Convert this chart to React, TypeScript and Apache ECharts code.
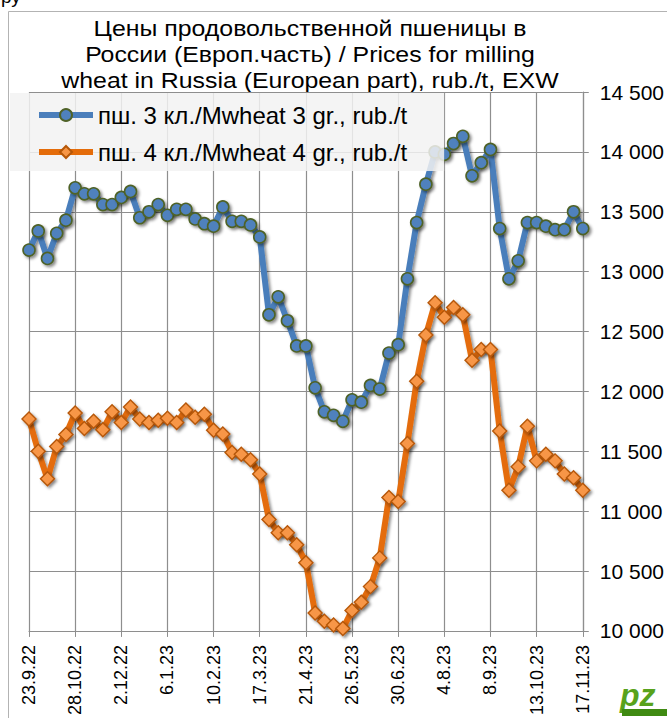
import React, { useEffect, useRef } from "react";
import * as echarts from "echarts";

const categories = [
  "23.9.22", "30.9.22", "7.10.22", "14.10.22", "21.10.22", "28.10.22", "4.11.22", "11.11.22", "18.11.22", "25.11.22",
  "2.12.22", "9.12.22", "16.12.22", "23.12.22", "30.12.22", "6.1.23", "13.1.23", "20.1.23", "27.1.23", "3.2.23",
  "10.2.23", "17.2.23", "24.2.23", "3.3.23", "10.3.23", "17.3.23", "24.3.23", "31.3.23", "7.4.23", "14.4.23",
  "21.4.23", "28.4.23", "5.5.23", "12.5.23", "19.5.23", "26.5.23", "2.6.23", "9.6.23", "16.6.23", "23.6.23",
  "30.6.23", "7.7.23", "14.7.23", "21.7.23", "28.7.23", "4.8.23", "11.8.23", "18.8.23", "25.8.23", "1.9.23",
  "8.9.23", "15.9.23", "22.9.23", "29.9.23", "6.10.23", "13.10.23", "20.10.23", "27.10.23", "3.11.23", "10.11.23",
  "17.11.23",
];

const wheat3 = [
  13180, 13340, 13110, 13320, 13430, 13700, 13650, 13650, 13560, 13560,
  13620, 13670, 13450, 13500, 13560, 13470, 13520, 13520, 13440, 13400,
  13380, 13540, 13420, 13420, 13390, 13290, 12640, 12790, 12590, 12380,
  12380, 12030, 11830, 11800, 11750, 11930, 11910, 12050, 12020, 12320,
  12390, 12940, 13410, 13730, 14000, 13980, 14070, 14130, 13800, 13910,
  14020, 13360, 12940, 13090, 13410, 13410, 13380, 13350, 13350, 13500,
  13360,
];

const wheat4 = [
  11770, 11500, 11270, 11540, 11640, 11820, 11690, 11750, 11680, 11830,
  11740, 11870, 11770, 11740, 11760, 11775, 11740, 11845, 11785, 11810,
  11675, 11645, 11490, 11475, 11430, 11310, 10930, 10820, 10820, 10720,
  10570, 10150, 10080, 10050, 10020, 10170, 10240, 10370, 10610, 11115,
  11080, 11565, 12085, 12470, 12740, 12620, 12700, 12640, 12260, 12350,
  12350, 11670, 11175, 11370, 11710, 11420, 11475, 11420, 11310, 11280,
  11175,
];

const seriesNames = ["пш. 3 кл./Mwheat 3 gr., rub./t", "пш. 4 кл./Mwheat 4 gr., rub./t"];
const titleLines = [
  "Цены продовольственной пшеницы в",
  "России (Европ.часть) / Prices for milling",
  "wheat in Russia (European part), rub./t, EXW",
];
const yMin = 10000;
const yMax = 14500;
const yStep = 500;

const FONT = "Liberation Sans, Arial, sans-serif";
const GRID = "#8e8e8e";

function fmt(v: number) {
  return String(v).replace(/\B(?=(\d{3})+(?!\d))/g, " ");
}

export default function App() {
  const ref = useRef<HTMLDivElement>(null);
  useEffect(() => {
    if (!ref.current) return;
    const chart = echarts.init(ref.current, undefined, { renderer: "svg" });
    const shadow = {
      shadowBlur: 3,
      shadowColor: "rgba(0,0,0,0.45)",
      shadowOffsetX: 2,
      shadowOffsetY: 2,
    };
    chart.setOption({
      animation: false,
      backgroundColor: "#ffffff",
      textStyle: { fontFamily: FONT },
      grid: { left: 29, right: 76, top: 92, bottom: 86, containLabel: false },
      legend: {
        orient: "vertical",
        left: 10,
        top: 93,
        padding: [7, 37, 4, 26],
        itemGap: 7,
        itemWidth: 54,
        itemHeight: 15,
        backgroundColor: "rgba(242,242,242,0.85)",
        lineStyle: { width: 6 },
        textStyle: { fontSize: 24, color: "#000", fontFamily: FONT, lineHeight: 30 },
        data: seriesNames,
      },
      xAxis: {
        type: "category",
        data: categories,
        boundaryGap: false,
        axisLine: { show: true, lineStyle: { color: GRID, width: 1.2 } },
        axisTick: { show: true, interval: 4, length: 6, lineStyle: { color: GRID } },
        axisLabel: {
          interval: 4,
          rotate: 90,
          fontSize: 18,
          color: "#000",
          fontFamily: FONT,
          margin: 14,
        },
        splitLine: { show: true, interval: 4, lineStyle: { color: GRID, width: 1.2 } },
      },
      yAxis: {
        type: "value",
        position: "right",
        min: yMin,
        max: yMax,
        interval: yStep,
        axisLine: { show: true, lineStyle: { color: GRID, width: 1.2 } },
        axisTick: { show: true, length: 6, lineStyle: { color: GRID } },
        axisLabel: {
          fontSize: 21,
          color: "#000",
          fontFamily: FONT,
          margin: 17,
          formatter: (v: number) => fmt(v),
        },
        splitLine: { show: true, lineStyle: { color: GRID, width: 1.2 } },
      },
      series: [
        {
          name: seriesNames[0],
          type: "line",
          data: wheat3,
          symbol: "circle",
          symbolSize: 12,
          showAllSymbol: true,
          z: 3,
          lineStyle: { color: "#4a7ebb", width: 6, ...shadow },
          itemStyle: { color: "#4f81bd", borderColor: "#4f6228", borderWidth: 1.6, ...shadow },
        },
        {
          name: seriesNames[1],
          type: "line",
          data: wheat4,
          symbol: "diamond",
          symbolSize: 14,
          showAllSymbol: true,
          z: 2,
          lineStyle: { color: "#e46c0a", width: 6, ...shadow },
          itemStyle: { color: "#f79646", borderColor: "#b65708", borderWidth: 1.4, ...shadow },
        },
      ],
      graphic: [
        {
          type: "rect",
          silent: true,
          z: -10,
          shape: { x: 8.5, y: 11.5, width: 720, height: 720 },
          style: { fill: "none", stroke: "#b3b3b3", lineWidth: 1 },
        },
        {
          type: "text",
          x: 1,
          y: -13,
          style: { text: "ру", fontSize: 19, fontFamily: FONT, fill: "#000", verticalAlign: "top" },
        },
        {
          type: "text",
          x: 310,
          y: 16,
          scaleX: 1.13,
          style: {
            text: titleLines.join("\n"),
            fontSize: 22,
            fontFamily: FONT,
            fill: "#000",
            textAlign: "center",
            verticalAlign: "top",
            lineHeight: 26,
          },
        },
        {
          type: "group",
          x: 620,
          y: 679,
          children: [
            {
              type: "text",
              x: 0,
              y: 0,
              style: {
                text: "pz",
                fontSize: 32,
                fontWeight: "bold",
                fontStyle: "italic",
                fontFamily: FONT,
                fill: "#58a21c",
                verticalAlign: "top",
              },
            },
            {
              type: "rect",
              shape: { x: 2, y: 30, width: 45, height: 7 },
              style: { fill: "#3f8a12" },
            },
          ],
        },
      ],
    });
    return () => chart.dispose();
  }, []);
  return (
    <div
      ref={ref}
      style={{ position: "absolute", left: 0, top: 0, width: 667, height: 718, overflow: "hidden" }}
    />
  );
}
